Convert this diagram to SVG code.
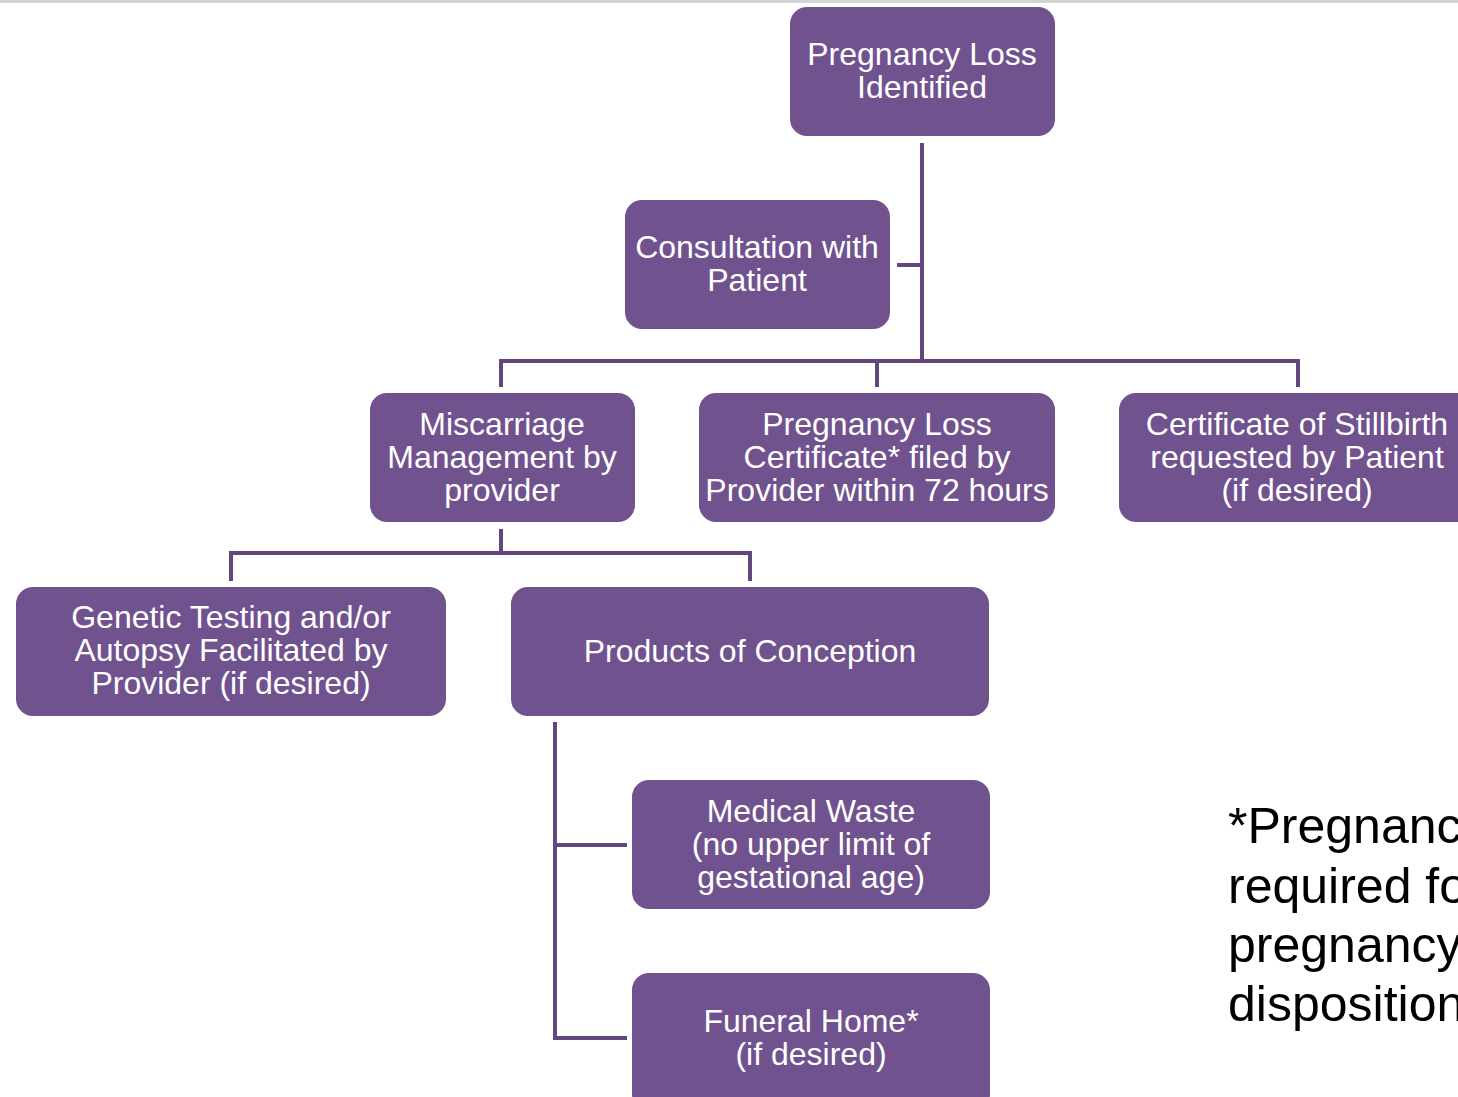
<svg xmlns="http://www.w3.org/2000/svg" width="1458" height="1097" viewBox="0 0 1458 1097">
<style>
.node{fill:#70528f;stroke:#ffffff;stroke-width:2}
.lbl{font-family:"Liberation Sans",Arial,sans-serif;font-size:32px;fill:#ffffff;text-anchor:middle}
.conn{stroke:#64467f;stroke-width:4;fill:none;stroke-linecap:square}
.note{font-family:"Liberation Sans",Arial,sans-serif;font-size:50px;fill:#000000}
</style>
<rect x="0" y="0" width="1458" height="1097" fill="#ffffff"/>
<rect x="0" y="0" width="1458" height="3" fill="#d4d4d4"/>
<g id="connectors">
<path class="conn" d="M922,145 V360"/>
<path class="conn" d="M899,265 H922"/>
<path class="conn" d="M501,385 V361 H1298 V385"/>
<path class="conn" d="M877,361 V385"/>
<path class="conn" d="M501,531 V553"/>
<path class="conn" d="M231,579 V553 H750 V579"/>
<path class="conn" d="M555,724 V1038 H625"/>
<path class="conn" d="M555,845 H625"/>
</g>
<g id="n-loss">
<rect class="node" x="789" y="6" width="267" height="131" rx="18"/>
<text class="lbl" x="922" y="65">Pregnancy Loss</text>
<text class="lbl" x="922" y="98">Identified</text>
</g>
<g id="n-consult">
<rect class="node" x="624" y="199" width="267" height="131" rx="18"/>
<text class="lbl" x="757" y="258">Consultation with</text>
<text class="lbl" x="757" y="291">Patient</text>
</g>
<g id="n-miscarriage">
<rect class="node" x="369" y="392" width="267" height="131" rx="18"/>
<text class="lbl" x="502" y="435">Miscarriage</text>
<text class="lbl" x="502" y="468">Management by</text>
<text class="lbl" x="502" y="501">provider</text>
</g>
<g id="n-certificate">
<rect class="node" x="698" y="392" width="358" height="131" rx="18"/>
<text class="lbl" x="877" y="435">Pregnancy Loss</text>
<text class="lbl" x="877" y="468">Certificate* filed by</text>
<text class="lbl" x="877" y="501">Provider within 72 hours</text>
</g>
<g id="n-stillbirth">
<rect class="node" x="1118" y="392" width="358" height="131" rx="18"/>
<text class="lbl" x="1297" y="435">Certificate of Stillbirth</text>
<text class="lbl" x="1297" y="468">requested by Patient</text>
<text class="lbl" x="1297" y="501">(if desired)</text>
</g>
<g id="n-genetic">
<rect class="node" x="15" y="586" width="432" height="131" rx="18"/>
<text class="lbl" x="231" y="628">Genetic Testing and/or</text>
<text class="lbl" x="231" y="661">Autopsy Facilitated by</text>
<text class="lbl" x="231" y="694">Provider (if desired)</text>
</g>
<g id="n-products">
<rect class="node" x="510" y="586" width="480" height="131" rx="18"/>
<text class="lbl" x="750" y="662">Products of Conception</text>
</g>
<g id="n-medical">
<rect class="node" x="631" y="779" width="360" height="131" rx="18"/>
<text class="lbl" x="811" y="822">Medical Waste</text>
<text class="lbl" x="811" y="855">(no upper limit of</text>
<text class="lbl" x="811" y="888">gestational age)</text>
</g>
<g id="n-funeral">
<rect class="node" x="631" y="972" width="360" height="140" rx="18"/>
<text class="lbl" x="811" y="1032">Funeral Home*</text>
<text class="lbl" x="811" y="1065">(if desired)</text>
</g>
<g id="footnote">
<text class="note" x="1228" y="843">*Pregnancy</text>
<text class="note" x="1228" y="903">required for</text>
<text class="note" x="1228" y="962">pregnancy</text>
<text class="note" x="1228" y="1021">disposition</text>
</g>
</svg>
